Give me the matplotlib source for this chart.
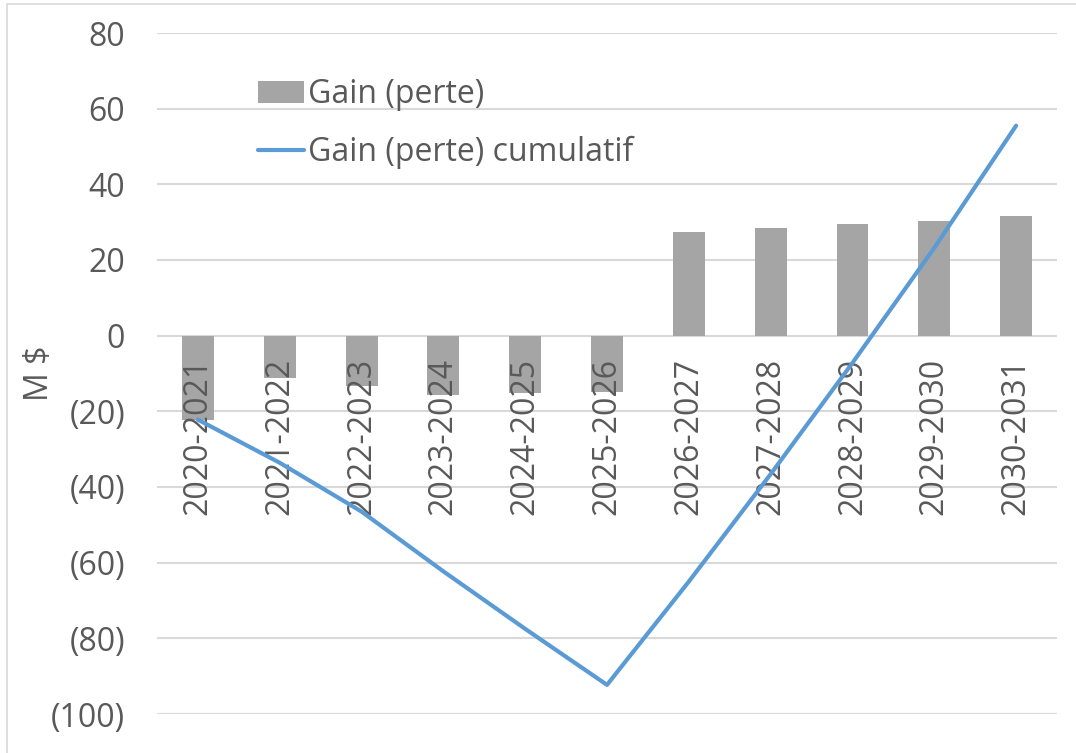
import matplotlib.pyplot as plt
from matplotlib.patches import Rectangle
from matplotlib.ticker import FuncFormatter
import numpy as np

# data (M $)
years = ["2020-2021", "2021-2022", "2022-2023", "2023-2024", "2024-2025", "2025-2026",
         "2026-2027", "2027-2028", "2028-2029", "2029-2030", "2030-2031"]
gain = [-22.2, -11.1, -13.4, -15.6, -15.2, -15.0, 27.4, 28.4, 29.5, 30.4, 31.6]
gain_cumul = [-22.2, -33.6, -46.5, -62.3, -77.5, -92.3, -65.0, -36.6, -7.2, 23.2, 55.5]
yticks = [80, 60, 40, 20, 0, -20, -40, -60, -80, -100]

plt.rcParams['font.family'] = ['Open Sans', 'DejaVu Sans']
txt_color = '#595959'
fs = 23

fig = plt.figure(figsize=(10.76, 7.53), dpi=100)
W, H = 1076, 753
# light chart-area border
fig.patches.append(Rectangle((7 / W, -0.1), 1.2, 1 - 4 / H + 0.1, transform=fig.transFigure,
                             fill=False, edgecolor='#d9d9d9', linewidth=1.2))

ax = fig.add_axes([157 / W, (H - 714) / H, 900 / W, (714 - 33) / H])
x = np.arange(len(years))

bars = ax.bar(x, gain, width=0.39, color='#a5a5a5', zorder=2, label='Gain (perte)')
line, = ax.plot(x, gain_cumul, color='#5b9bd5', linewidth=3, zorder=4,
                solid_capstyle='round', label='Gain (perte) cumulatif')

ax.set_xlim(-0.5, len(years) - 0.5)
ax.set_ylim(-100, 80)
ax.set_yticks(yticks)
ax.yaxis.set_major_formatter(FuncFormatter(lambda v, p: f"({abs(int(v))})" if v < 0 else f"{int(v)}"))
ax.tick_params(axis='y', length=0, pad=23, labelsize=fs, labelcolor=txt_color)
ax.set_xticks([])
ax.grid(axis='y', color='#d9d9d9', linewidth=1.5, zorder=0)
ax.set_axisbelow(True)
for s in ax.spines.values():
    s.set_visible(False)

# category labels sit just under the zero line
for xi, lab in zip(x, years):
    ax.text(xi, -5.8, lab, rotation=90, ha='center', va='top', fontsize=fs,
            color=txt_color, zorder=3)

ax.set_ylabel('M $', fontsize=fs, color=txt_color)
ax.yaxis.set_label_coords(-101 / 900, 0.5)

ax.legend([bars, line], ['Gain (perte)', 'Gain (perte) cumulatif'],
          loc='upper left', bbox_to_anchor=(258 / W, 1 - 78 / H), bbox_transform=fig.transFigure,
          frameon=False, fontsize=fs, labelcolor=txt_color, borderpad=0, borderaxespad=0,
          handlelength=1.45, handleheight=0.66, handletextpad=0.12, labelspacing=0.78)

fig.savefig('out.png', dpi=100)
